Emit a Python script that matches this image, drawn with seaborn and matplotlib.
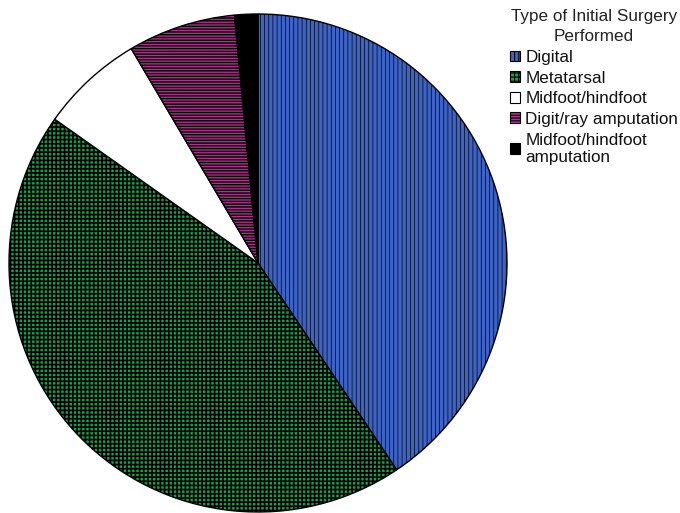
import matplotlib
matplotlib.use("Agg")
import matplotlib.pyplot as plt
import seaborn as sns
from matplotlib.patches import Patch

categories = ["Digital", "Metatarsal", "Midfoot/hindfoot",
              "Digit/ray amputation", "Midfoot/hindfoot\namputation"]
shares = [40.6, 44.2, 6.7, 7.0, 1.5]
colors = ["#3d63c6", "#12a452", "#ffffff", "#b0308e", "#000000"]
hatches = ["||||", "++++", "", "------", ""]
hatch_lw = [0.5, 1.2, 0.8, 1.0, 0.8]
legend_title = "Type of Initial Surgery\nPerformed"

sns.set_theme(style="white")
plt.rcParams["font.family"] = ["Liberation Sans", "DejaVu Sans"]
plt.rcParams["hatch.linewidth"] = 0.8

fig = plt.figure(figsize=(6.8, 5.13), dpi=100)
R = 249
cx, cy = 258, 263
ax = fig.add_axes([(cx - R) / 680, (513 - cy - R) / 513, 2 * R / 680, 2 * R / 513])

wedges, _ = ax.pie(shares, colors=colors, startangle=90, counterclock=False,
                   wedgeprops=dict(edgecolor="black", linewidth=1.0))
for w, h, lw in zip(wedges, hatches, hatch_lw):
    w.set_hatch(h)
    w.set_hatch_linewidth(lw)
ax.set_aspect("equal")
ax.set_xlim(-1.0, 1.0)
ax.set_ylim(-1.0, 1.0)
ax.axis("off")

handles = []
for c, h, lw in zip(colors, hatches, hatch_lw):
    p = Patch(facecolor=c, edgecolor="black", hatch=h, linewidth=0.8)
    p.set_hatch_linewidth(lw)
    handles.append(p)
leg = fig.legend(handles, categories, title=legend_title,
                 loc="upper left", bbox_to_anchor=(510 / 680, 1 - 9 / 513),
                 frameon=False, fontsize=12.3, title_fontsize=12.3,
                 handlelength=0.6, handleheight=0.6, handletextpad=0.3,
                 labelspacing=0.33, borderaxespad=0.0, borderpad=0.0)
leg.get_title().set_color("#222222")
leg.get_title().set_multialignment("center")
leg.get_title().set_linespacing(1.45)
leg._legend_box.sep = 4
for t in leg.get_texts():
    t.set_color("#111111")
    t.set_linespacing(1.2)

fig.savefig("out.png", dpi=100, facecolor="white")
